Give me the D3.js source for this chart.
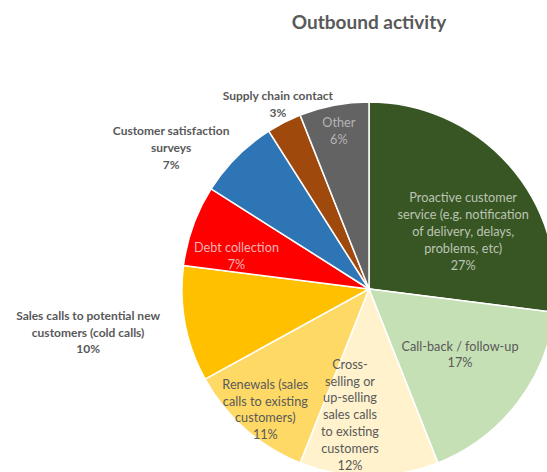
<!DOCTYPE html>
<html>
<head>
<meta charset="utf-8">
<script src="https://cdn.jsdelivr.net/npm/d3@7"></script>
<style>
  body { margin: 0; background: #fff; }
  text { font-family: "Lato", "Open Sans", sans-serif; }
</style>
</head>
<body>
<div id="chart"></div>
<script>
// chart data
const categories = [
  ["Proactive customer", "service (e.g. notification", "of delivery, delays,", "problems, etc)"],
  ["Call-back / follow-up"],
  ["Cross-", "selling or", "up-selling", "sales calls", "to existing", "customers"],
  ["Renewals (sales", "calls to existing", "customers)"],
  ["Sales calls to potential new", "customers (cold calls)"],
  ["Debt collection"],
  ["Customer satisfaction", "surveys"],
  ["Supply chain contact"],
  ["Other"]
];
const shares = [27, 17, 12, 11, 10, 7, 7, 3, 6];
const colors = ["#375623", "#c5e0b4", "#fff2cc", "#ffd966", "#ffc000", "#ff0000", "#2e75b6", "#a0490d", "#636363"];

// label layout: radius factor, angle nudge (deg), outside?, text color
const labelLayout = [
  [0.59, 10, false, "#bcc4b4"],
  [0.60, -2, false, "#595959"],
  [0.68, 8.6, false, "#595959"],
  [0.85, -0.7, false, "#595959"],
  [1.52, 2, true, "#595959"],
  [0.73, -6, false, "#f0b4b4"],
  [1.30, -9.5, true, "#595959"],
  [1.10, 0.7, true, "#595959"],
  [0.86, 0, false, "#b4b4b4"]
];

const width = 547, height = 472;
const cx = 369, cy = 289, radius = 187;

const svg = d3.select("#chart").append("svg")
  .attr("width", width)
  .attr("height", height);

svg.append("text")
  .attr("x", cx)
  .attr("y", 29)
  .attr("text-anchor", "middle")
  .attr("fill", "#595959")
  .attr("font-size", "19px")
  .attr("font-weight", "bold")
  .text("Outbound activity");

const g = svg.append("g").attr("transform", `translate(${cx},${cy})`);

const pie = d3.pie().sort(null).value((d) => d);
const arcs = pie(shares);
const arc = d3.arc().innerRadius(0).outerRadius(radius);

g.selectAll(".slice")
  .data(arcs)
  .enter()
  .append("path")
  .attr("class", "slice")
  .attr("d", arc)
  .attr("fill", (d, i) => colors[i])
  .attr("stroke", "#fff")
  .attr("stroke-width", 1.5);

const lineH = 16.8;
g.selectAll(".label")
  .data(arcs)
  .enter()
  .append("text")
  .attr("class", "label")
  .attr("text-anchor", "middle")
  .attr("font-size", (d, i) => (labelLayout[i][2] ? "12px" : "12.7px"))
  .attr("font-weight", (d, i) => (labelLayout[i][2] ? "bold" : "normal"))
  .attr("fill", (d, i) => labelLayout[i][3])
  .each(function (d, i) {
    const [f, nudge] = labelLayout[i];
    const a = (d.startAngle + d.endAngle) / 2 + (nudge * Math.PI) / 180;
    const r = radius * f;
    const x = Math.sin(a) * r;
    const y = -Math.cos(a) * r;
    const lines = categories[i].concat([shares[i] + "%"]);
    const top = y - ((lines.length - 1) * lineH) / 2;
    const t = d3.select(this);
    lines.forEach((ln, k) => {
      t.append("tspan")
        .attr("x", x)
        .attr("y", top + k * lineH)
        .attr("dy", "0.35em")
        .text(ln);
    });
  });
</script>
</body>
</html>
